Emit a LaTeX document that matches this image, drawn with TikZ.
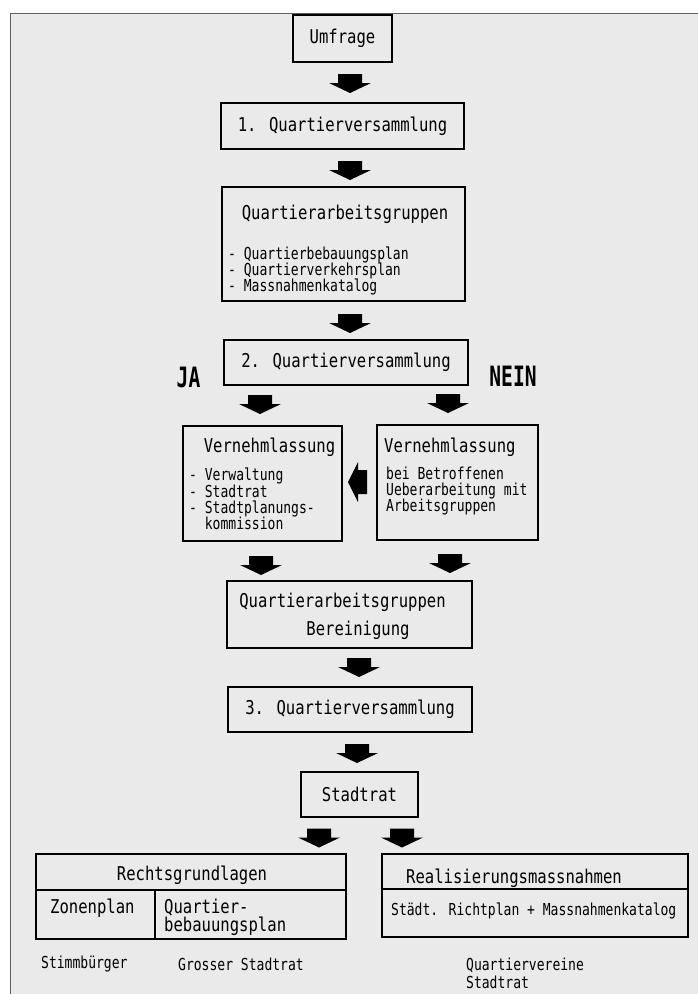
\documentclass[tikz,border=0pt]{standalone}
\usepackage{fontspec}
\newfontfamily\plotfont[FakeStretch=0.82]{DejaVu Sans Mono}
\newfontfamily\narrowfont[FakeStretch=0.79]{DejaVu Sans Mono}
\newfontfamily\slimfont[FakeStretch=0.7]{DejaVu Sans Mono}
\usetikzlibrary{calc}
\definecolor{paper}{RGB}{234,234,234}
\definecolor{framegray}{RGB}{95,95,95}
\newcommand\bigtxt{\plotfont\fontsize{19}{18}\selectfont}
\newcommand\smalltxt{\narrowfont\fontsize{16.5}{16.2}\selectfont}

\begin{document}
\begin{tikzpicture}[
    x=1pt, y=-1pt,
    box/.style={rectangle, draw, line width=1.7pt, inner sep=0pt, font=\bigtxt},
    label/.style={inner sep=0pt, font=\bigtxt, align=left},
    small/.style={inner sep=0pt, font=\smalltxt, align=left},
    blockdown/.pic={\fill (-12,-9.5)--(12,-9.5)--(12,-0.5)--(21,-0.5)--(0,9.5)--(-21,-0.5)--(-12,-0.5)--cycle;},
    blockleft/.pic={\fill (9.5,-12)--(9.5,12)--(0.5,12)--(0.5,20)--(-9.5,0)--(0.5,-20)--(0.5,-12)--cycle;}
]
\useasboundingbox (0,0) rectangle (697,994);

% paper and frame
\fill[paper] (10,13) rectangle (710,1000);
\draw[framegray, line width=0.8pt] (710,13) -- (10,13) -- (10,1000);

% main column
\node[box, minimum width=99pt, minimum height=47pt] (umfrage) at (342.5,38.5) {Umfrage};
\node[box, minimum width=243pt, minimum height=46pt] (qv1) at (342.5,126) {1. Quartierversammlung};
\node[box, minimum width=243pt, minimum height=114pt] (qag) at (343.5,244) {};
\node[label, anchor=center] (qagtitle) at (345,214) {Quartierarbeitsgruppen};
\node[small, anchor=west] (qaglist) at (228,271) {- Quartierbebauungsplan\\- Quartierverkehrsplan\\- Massnahmenkatalog};
\node[box, minimum width=244pt, minimum height=45pt] (qv2) at (346,362.5) {2. Quartierversammlung};

% JA / NEIN
\node[label, font=\slimfont\bfseries\fontsize{28}{28}\selectfont] (ja) at (188.5,377) {JA};
\node[label, font=\slimfont\bfseries\fontsize{28}{28}\selectfont] (nein) at (513,376) {NEIN};

% Vernehmlassung
\node[box, minimum width=159pt, minimum height=115pt] (vlinks) at (262.5,483.5) {};
\node[label] (vlinkstitle) at (269.5,447) {Vernehmlassung};
\node[small, anchor=west] (vlinkslist) at (189,499) {- Verwaltung\\- Stadtrat\\- Stadtplanungs-\\\phantom{- }kommission};
\node[box, minimum width=161pt, minimum height=115pt] (vrechts) at (457.5,482.5) {};
\node[label, anchor=west] (vrechtstitle) at (384,447) {Vernehmlassung};
\node[small, anchor=west] (vrechtslist) at (386,491) {bei Betroffenen\\Ueberarbeitung mit\\Arbeitsgruppen};

\node[box, minimum width=245pt, minimum height=67pt] (qagb) at (349.5,614.5) {};
\node[label] (qagbtitle) at (342.5,602) {Quartierarbeitsgruppen};
\node[label] (bereinigung) at (358,630) {Bereinigung};
\node[box, minimum width=244pt, minimum height=45pt] (qv3) at (350,709.5) {3. Quartierversammlung};
\node[box, minimum width=117pt, minimum height=45pt] (stadtrat) at (359.5,794.5) {Stadtrat};

% Rechtsgrundlagen
\node[box, minimum width=310pt, minimum height=85pt] (recht) at (191,896.5) {};
\draw[line width=1.7pt] ($(recht.north west)+(0,37)$) -- ($(recht.north east)+(0,37)$);
\draw[line width=1.7pt] ($(recht.north west)+(120,37)$) -- ($(recht.south west)+(120,0)$);
\node[label] (rechttitle) at (192,875) {Rechtsgrundlagen};
\node[label, anchor=west] (zonenplan) at (50,908) {Zonenplan};
\node[label, anchor=west] (qbplan) at (164,917) {Quartier-\\bebauungsplan};

% Realisierungsmassnahmen
\node[box, minimum width=306pt, minimum height=83pt] (real) at (535,895.5) {};
\draw[line width=1.7pt] ($(real.north west)+(0,36)$) -- ($(real.north east)+(0,36)$);
\node[label] (realtitle) at (514,878) {Realisierungsmassnahmen};
\node[small, anchor=west] (richtplan) at (391,911) {Städt. Richtplan + Massnahmenkatalog};

% Zustaendigkeit
\node[small, anchor=west] (stimm) at (41,964) {Stimmbürger};
\node[small, anchor=west] (grosser) at (178,964) {Grosser Stadtrat};
\node[small, anchor=west, font=\narrowfont\fontsize{16.5}{18}\selectfont] (quartiervereine) at (466,973) {Quartiervereine\\Stadtrat};

% Pfeile
\pic at (350,83.5) {blockdown};
\pic at (350,170.5) {blockdown};
\pic at (350,323.5) {blockdown};
\pic at (260,404.5) {blockdown};
\pic at (448,403.5) {blockdown};
\pic at (357.5,482) {blockleft};
\pic at (261,565.5) {blockdown};
\pic at (450,563.5) {blockdown};
\pic at (359,667.5) {blockdown};
\pic at (357,753.5) {blockdown};
\pic at (319,838) {blockdown};
\pic at (402,838) {blockdown};

\end{tikzpicture}
\end{document}
